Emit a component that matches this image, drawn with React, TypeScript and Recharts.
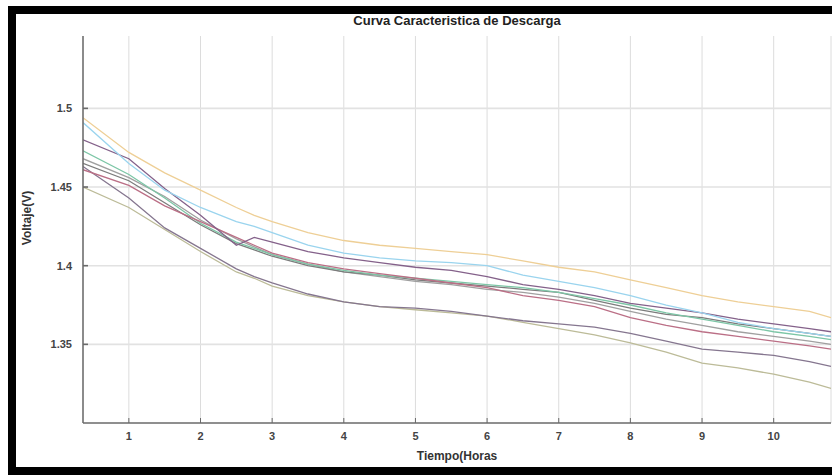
import { LineChart, Line, XAxis, YAxis, CartesianGrid, ReferenceLine } from 'recharts';

// tiempo (horas) de cada lectura
const hours = [0.36, 1, 1.5, 2, 2.5, 2.75, 3, 3.5, 4, 4.5, 5, 5.5, 6, 6.5, 7, 7.5, 8, 8.5, 9, 9.5, 10, 10.5, 10.8];

// voltaje de cada pila (V)
const pila1 = [1.494, 1.472, 1.459, 1.448, 1.437, 1.432, 1.428, 1.421, 1.416, 1.413, 1.411, 1.409, 1.407, 1.403, 1.399, 1.396, 1.391, 1.386, 1.381, 1.377, 1.374, 1.371, 1.367];
const pila2 = [1.491, 1.465, 1.448, 1.437, 1.428, 1.425, 1.421, 1.413, 1.408, 1.405, 1.403, 1.402, 1.400, 1.394, 1.390, 1.386, 1.381, 1.375, 1.370, 1.364, 1.360, 1.357, 1.355];
const pila3 = [1.480, 1.468, 1.449, 1.432, 1.413, 1.418, 1.415, 1.409, 1.405, 1.402, 1.399, 1.397, 1.393, 1.388, 1.385, 1.381, 1.376, 1.373, 1.370, 1.366, 1.363, 1.360, 1.358];
const pila4 = [1.461, 1.451, 1.438, 1.428, 1.418, 1.413, 1.408, 1.402, 1.398, 1.395, 1.392, 1.389, 1.386, 1.381, 1.378, 1.374, 1.367, 1.362, 1.358, 1.355, 1.352, 1.349, 1.347];
const pila5 = [1.473, 1.458, 1.443, 1.427, 1.415, 1.411, 1.407, 1.401, 1.397, 1.394, 1.392, 1.390, 1.388, 1.386, 1.383, 1.379, 1.375, 1.370, 1.366, 1.362, 1.358, 1.355, 1.353];
const pila6 = [1.465, 1.454, 1.440, 1.426, 1.414, 1.410, 1.406, 1.400, 1.396, 1.394, 1.391, 1.389, 1.387, 1.385, 1.383, 1.378, 1.373, 1.369, 1.367, 1.363, 1.360, 1.357, 1.355];
const pila7 = [1.468, 1.456, 1.444, 1.429, 1.417, 1.412, 1.407, 1.401, 1.396, 1.393, 1.390, 1.388, 1.385, 1.383, 1.380, 1.376, 1.371, 1.366, 1.362, 1.358, 1.355, 1.352, 1.350];
const pila8 = [1.463, 1.443, 1.424, 1.411, 1.398, 1.393, 1.389, 1.382, 1.377, 1.374, 1.373, 1.371, 1.368, 1.365, 1.363, 1.361, 1.357, 1.352, 1.347, 1.345, 1.343, 1.339, 1.336];
const pila9 = [1.450, 1.437, 1.423, 1.409, 1.396, 1.392, 1.387, 1.381, 1.377, 1.374, 1.372, 1.370, 1.368, 1.364, 1.360, 1.356, 1.351, 1.345, 1.338, 1.335, 1.331, 1.326, 1.322];

const xTicks = [1, 2, 3, 4, 5, 6, 7, 8, 9, 10];
const yTicks = [1.35, 1.4, 1.45, 1.5];

const series = [
  { key: 'p9', values: pila9, color: '#bcbb98' },
  { key: 'p8', values: pila8, color: '#85768f' },
  { key: 'p7', values: pila7, color: '#a0a0a0' },
  { key: 'p6', values: pila6, color: '#7c7c7c' },
  { key: 'p5', values: pila5, color: '#7cc6a6' },
  { key: 'p4', values: pila4, color: '#bb6f86' },
  { key: 'p3', values: pila3, color: '#84618a' },
  { key: 'p2', values: pila2, color: '#9ad4ee' },
  { key: 'p1', values: pila1, color: '#eecf96' },
];

const data = hours.map((t, i) => {
  const row: any = { t };
  series.forEach((s) => { row[s.key] = s.values[i]; });
  return row;
});

const font = '"Liberation Sans", Arial, sans-serif';
const axisColor = '#6a6a6a';
const gridColor = '#dcdcdc';

function BottomTick(props: any) {
  const { x, y, payload } = props;
  const axisY = y - 9;
  return (
    <g>
      <line x1={x} y1={axisY} x2={x} y2={axisY - 5} stroke={axisColor} strokeWidth={1} />
      <text x={x} y={y} dy="0.71em" textAnchor="middle" fill="#444" fontSize={11} fontWeight="bold" fontFamily={font}>
        {payload.value}
      </text>
    </g>
  );
}

function TopTick(props: any) {
  const { x, y } = props;
  return <line x1={x} y1={y} x2={x} y2={y + 5} stroke={axisColor} strokeWidth={1} />;
}

function LeftTick(props: any) {
  const { x, y, payload } = props;
  const axisX = x + 11;
  return (
    <g>
      <line x1={axisX} y1={y} x2={axisX + 5} y2={y} stroke={axisColor} strokeWidth={1.6} />
      <text x={x} y={y} dy="0.35em" textAnchor="end" fill="#444" fontSize={11} fontWeight="bold" fontFamily={font}>
        {String(payload.value)}
      </text>
    </g>
  );
}

function RightTick(props: any) {
  const { x, y } = props;
  return <line x1={x} y1={y} x2={x - 5} y2={y} stroke={axisColor} strokeWidth={1.6} />;
}

export default function App() {
  return (
    <div style={{ position: 'absolute', left: 0, top: 0, width: 832, height: 475, background: '#fff', overflow: 'hidden' }}>
      {/* marco negro */}
      <div style={{ position: 'absolute', left: 8, top: 6, width: 824, height: 8, background: '#000' }} />
      <div style={{ position: 'absolute', left: 8, top: 6, width: 8, height: 469, background: '#000' }} />
      <div style={{ position: 'absolute', left: 8, top: 467, width: 824, height: 8, background: '#000' }} />

      <div
        style={{
          position: 'absolute', left: 83, width: 748, top: 13, textAlign: 'center',
          fontFamily: font, fontWeight: 'bold', fontSize: 13, color: '#222',
        }}
      >
        Curva Caracteristica de Descarga
      </div>
      <div
        style={{
          position: 'absolute', left: 83, width: 748, top: 449, textAlign: 'center',
          fontFamily: font, fontWeight: 'bold', fontSize: 12, color: '#333',
        }}
      >
        Tiempo(Horas
      </div>
      <div
        style={{
          position: 'absolute', left: 27, top: 218, transform: 'translate(-50%, -50%) rotate(-90deg)',
          fontFamily: font, fontWeight: 'bold', fontSize: 12, color: '#333', whiteSpace: 'nowrap',
        }}
      >
        Voltaje(V)
      </div>

      <div style={{ position: 'absolute', left: 0, top: 0 }}>
        <LineChart width={832} height={475} data={data} margin={{ top: 36, right: 1, bottom: 22, left: 0 }}>
          <CartesianGrid
            xAxisId="bottom"
            yAxisId="left"
            stroke={gridColor}
            strokeWidth={1}
            vertical
            horizontal={false}
          />
          <XAxis
            xAxisId="bottom"
            dataKey="t"
            type="number"
            domain={[0.36, 10.8]}
            ticks={xTicks}
            allowDataOverflow
            height={30}
            tickSize={0}
            tickMargin={9}
            tickLine={false}
            tick={<BottomTick />}
            axisLine={{ stroke: axisColor, strokeWidth: 1.5 }}
          />
          <XAxis
            xAxisId="top"
            orientation="top"
            dataKey="t"
            type="number"
            domain={[0.36, 10.8]}
            ticks={xTicks}
            allowDataOverflow
            height={0}
            tickSize={0}
            tickLine={false}
            tick={<TopTick />}
            axisLine={{ stroke: axisColor, strokeWidth: 1 }}
          />
          <YAxis
            yAxisId="left"
            type="number"
            domain={[1.3, 1.546]}
            ticks={yTicks}
            allowDataOverflow
            width={83}
            tickSize={0}
            tickMargin={11}
            tickLine={false}
            tick={<LeftTick />}
            axisLine={{ stroke: axisColor, strokeWidth: 1.5 }}
          />
          <YAxis
            yAxisId="right"
            orientation="right"
            type="number"
            domain={[1.3, 1.546]}
            ticks={yTicks}
            allowDataOverflow
            width={0}
            tickSize={0}
            tickLine={false}
            tick={<RightTick />}
            axisLine={{ stroke: '#b0b0b0', strokeWidth: 1 }}
          />
          {yTicks.map((v) => (
            <ReferenceLine key={v} xAxisId="bottom" yAxisId="left" y={v} stroke="#e2e2e2" strokeWidth={1.6} />
          ))}
          {series.map((s) => (
            <Line
              key={s.key}
              xAxisId="bottom"
              yAxisId="left"
              type="linear"
              dataKey={s.key}
              stroke={s.color}
              strokeWidth={1.3}
              dot={false}
              isAnimationActive={false}
            />
          ))}
        </LineChart>
      </div>
    </div>
  );
}
